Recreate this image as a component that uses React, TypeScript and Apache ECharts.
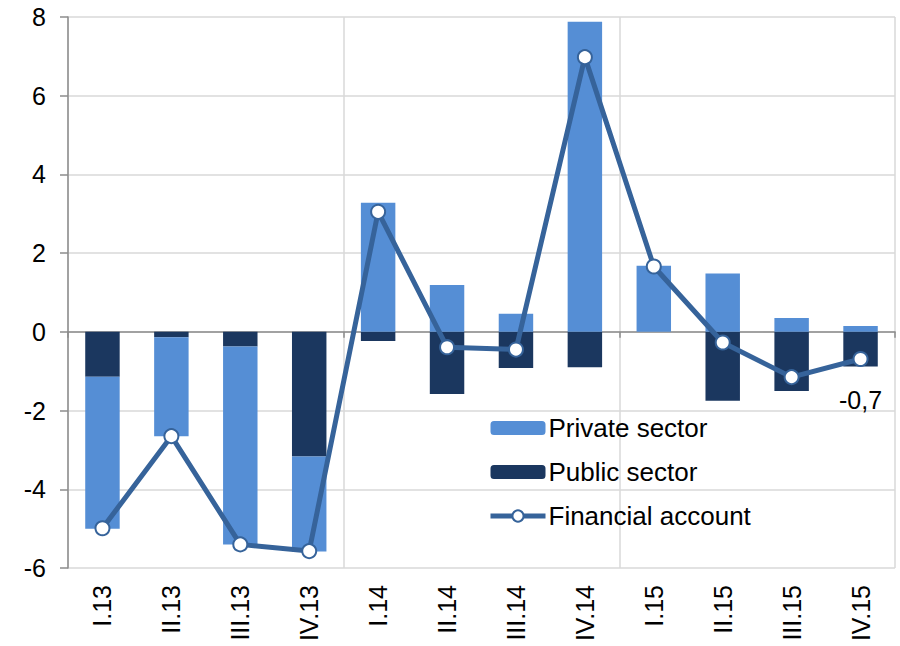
import React, { useEffect, useRef } from "react";
import * as echarts from "echarts";

const categories = ["I.13", "II.13", "III.13", "IV.13", "I.14", "II.14", "III.14", "IV.14", "I.15", "II.15", "III.15", "IV.15"];
const privateSector = [-3.86, -2.51, -5.03, -2.41, 3.28, 1.19, 0.46, 7.88, 1.68, 1.48, 0.35, 0.15];
const publicSector = [-1.14, -0.14, -0.37, -3.17, -0.23, -1.58, -0.92, -0.9, 0, -1.75, -1.5, -0.88];
const financialAccount = [-4.99, -2.65, -5.4, -5.57, 3.05, -0.39, -0.45, 6.98, 1.66, -0.27, -1.15, -0.69];
const yTicks = { min: -6, max: 8, interval: 2 };

const C_PRIVATE = "#558ED5";
const C_PUBLIC = "#1B375F";
const C_LINE = "#36639A";
const FONT = "Liberation Sans, Arial, sans-serif";

export default function App() {
  const ref = useRef<HTMLDivElement>(null);
  useEffect(() => {
    if (!ref.current) return;
    const chart = echarts.init(ref.current, undefined, { renderer: "svg" });
    const last = financialAccount.length - 1;
    chart.setOption({
      animation: false,
      textStyle: { fontFamily: FONT },
      grid: { left: 68, right: 5, top: 17, bottom: 78, containLabel: false },
      legend: {
        orient: "vertical",
        left: 483,
        top: 410,
        itemWidth: 55,
        itemHeight: 14,
        itemGap: 18,
        data: ["Private sector", "Public sector", "Financial account"],
        lineStyle: { width: 5 },
        textStyle: { fontSize: 26, color: "#000", fontFamily: FONT, padding: [0, 0, 0, -2] },
      },
      xAxis: [
        {
          type: "category",
          data: categories,
          position: "bottom",
          axisLine: { show: false, onZero: false },
          axisTick: { show: false },
          axisLabel: { rotate: 90, fontSize: 25, color: "#000", margin: 17, fontFamily: FONT },
          splitLine: { show: true, interval: 3, lineStyle: { color: "#D9D9D9", width: 1.5 } },
        },
        {
          type: "category",
          data: categories,
          position: "bottom",
          axisLine: { show: true, onZero: true, lineStyle: { color: "#8C8C8C", width: 1.5 } },
          axisTick: { show: true, interval: 3, length: 6, inside: false, lineStyle: { color: "#8C8C8C", width: 1.5 } },
          axisLabel: { show: false },
          splitLine: { show: false },
        },
      ],
      yAxis: {
        type: "value",
        min: yTicks.min,
        max: yTicks.max,
        interval: yTicks.interval,
        axisLine: { show: true, lineStyle: { color: "#8C8C8C", width: 1.5 } },
        axisTick: { show: true, length: 8, lineStyle: { color: "#8C8C8C", width: 1.5 } },
        axisLabel: { fontSize: 25, color: "#000", margin: 22, fontFamily: FONT },
        splitLine: { show: true, lineStyle: { color: "#D9D9D9", width: 1.5 } },
      },
      series: [
        {
          name: "Public sector",
          type: "bar",
          stack: "total",
          data: publicSector,
          barWidth: "50%",
          itemStyle: { color: C_PUBLIC },
          xAxisIndex: 0,
        },
        {
          name: "Private sector",
          type: "bar",
          stack: "total",
          data: privateSector,
          barWidth: "50%",
          itemStyle: { color: C_PRIVATE },
          xAxisIndex: 0,
        },
        {
          name: "Financial account",
          type: "line",
          xAxisIndex: 0,
          z: 5,
          data: financialAccount.map((v, i) =>
            i === last
              ? {
                  value: v,
                  label: {
                    show: true,
                    position: "bottom",
                    distance: 20,
                    fontSize: 25,
                    color: "#000",
                    fontFamily: FONT,
                    formatter: (p: any) => Number(p.value).toFixed(1).replace(".", ","),
                  },
                }
              : v
          ),
          symbol: "circle",
          symbolSize: 14,
          lineStyle: { color: C_LINE, width: 5 },
          itemStyle: { color: "#fff", borderColor: C_LINE, borderWidth: 2 },
        },
      ],
    });
    return () => chart.dispose();
  }, []);
  return <div ref={ref} style={{ width: 900, height: 646, position: "absolute", left: 0, top: 0 }} />;
}
